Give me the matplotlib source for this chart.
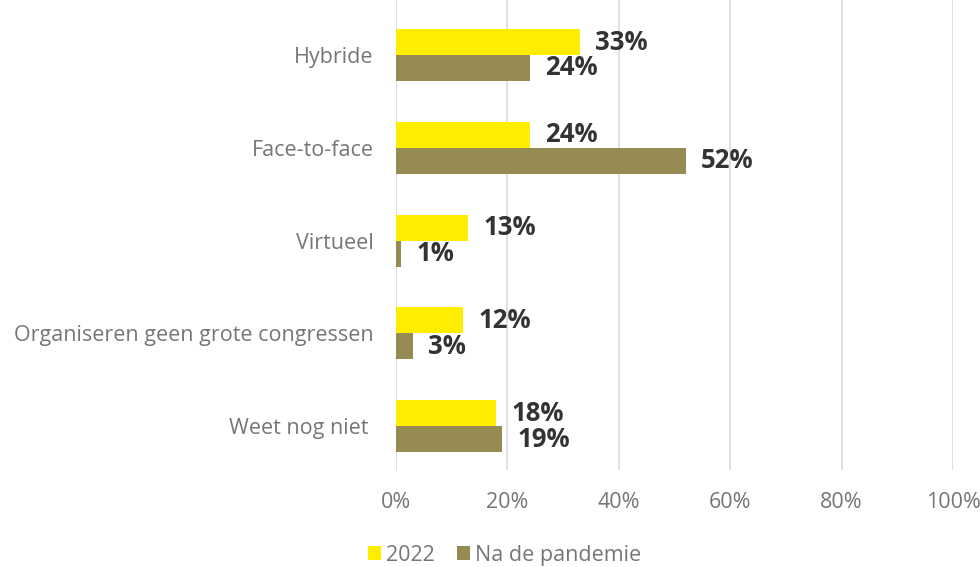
import numpy as np
import matplotlib.pyplot as plt

categories = ['Hybride', 'Face-to-face', 'Virtueel', 'Organiseren geen grote congressen', 'Weet nog niet ']
val_2022 = [33, 24, 13, 12, 18]
val_na = [24, 52, 1, 3, 19]
ticks = [0, 20, 40, 60, 80, 100]

plt.rcParams['font.family'] = ['Open Sans', 'DejaVu Sans']

fig = plt.figure(figsize=(9.8, 5.67), dpi=100)
ax = fig.add_axes([0.404, 0.171, 0.5685, 0.829])

y = np.arange(len(categories))[::-1]
h = 0.28
b1 = ax.barh(y + h / 2, val_2022, height=h, color='#FFED00', label='2022', zorder=2)
b2 = ax.barh(y - h / 2, val_na, height=h, color='#958B52', label='Na de pandemie', zorder=2)

for bars, vals in ((b1, val_2022), (b2, val_na)):
    for bar, v in zip(bars, vals):
        ax.annotate(f'{v}%', (bar.get_width(), bar.get_y() + bar.get_height() / 2),
                    xytext=(11, 0), textcoords='offset points', ha='left', va='center',
                    fontsize=18.5, fontweight='bold', color='#333333')

ax.set_xlim(0, 100)
ax.set_ylim(-0.474, 4.593)
ax.set_xticks(ticks)
ax.set_xticklabels([f'{t}%' for t in ticks])
ax.set_yticks(y)
ax.set_yticklabels(categories)
ax.tick_params(axis='both', length=0, labelsize=15.5, labelcolor='#767676')
ax.tick_params(axis='x', pad=16)
ax.tick_params(axis='y', pad=16)
ax.grid(axis='x', color='#D9D9D9', linewidth=1.2, zorder=0)
for s in ax.spines.values():
    s.set_visible(False)

fig.legend(loc='center', bbox_to_anchor=(0.515, 0.021), ncol=2, frameon=False,
           fontsize=15.5, labelcolor='#767676', handlelength=0.6, handleheight=0.6,
           handletextpad=0.25, columnspacing=1.0)

fig.savefig('out.png', dpi=100)
